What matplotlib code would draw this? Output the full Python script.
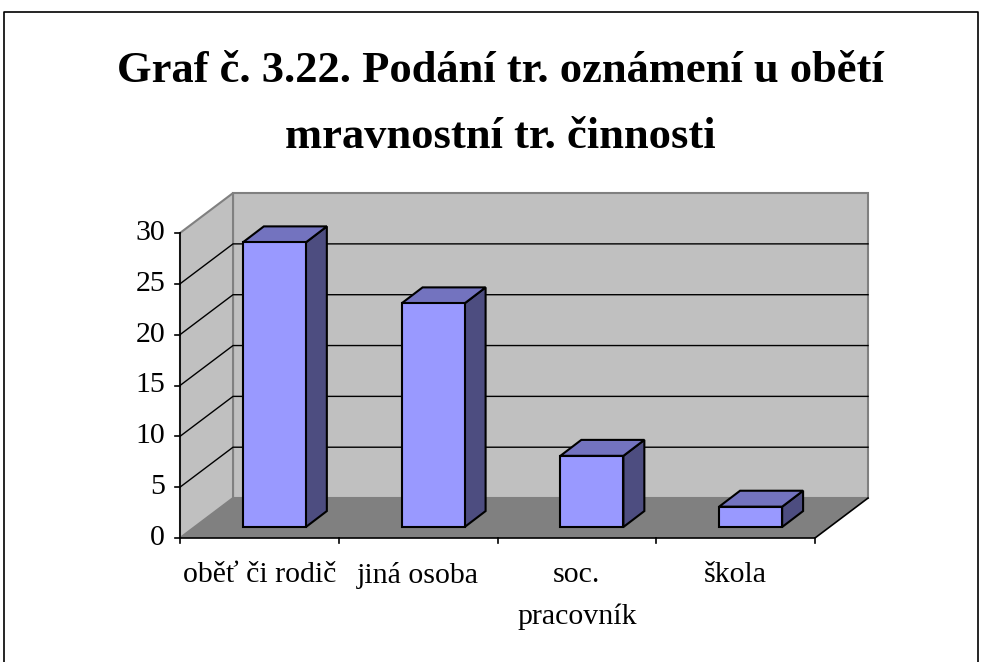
import matplotlib.pyplot as plt
from matplotlib.patches import Polygon

categories = ['oběť či rodič', 'jiná osoba', 'soc.\npracovník', 'škola']
values = [28, 22, 7, 2]
yticks = [0, 5, 10, 15, 20, 25, 30]
title_lines = ['Graf č. 3.22. Podání tr. oznámení u obětí', 'mravnostní tr. činnosti']

plt.rcParams['font.family'] = ['Liberation Serif', 'DejaVu Serif']

fig = plt.figure(figsize=(9.83, 6.62), dpi=100)
ax = fig.add_axes([180 / 983, 124 / 662, 635 / 983, 305 / 662])
ax.set_xlim(0, len(categories))
ax.set_ylim(0, 30)
ax.axis('off')

# depth of the 3d box in data units
dx, dy = 0.334, 3.93
# bar placement inside the depth
fdx, fdy = 0.0945, 1.08
bdx, bdy = 0.132, 1.57
w = 0.397
n = len(categories)
top = yticks[-1]


def poly(pts, fc, ec='none', lw=1.0, z=1):
    ax.add_patch(Polygon(pts, closed=True, facecolor=fc, edgecolor=ec,
                         linewidth=lw, zorder=z, clip_on=False))


# walls and floor
poly([(dx, dy), (n + dx, dy), (n + dx, top + dy), (dx, top + dy)], '#c0c0c0', '#808080', 1.5)
poly([(0, 0), (dx, dy), (dx, top + dy), (0, top)], '#c0c0c0', '#808080', 1.5)
poly([(0, 0), (n, 0), (n + dx, dy), (dx, dy)], '#808080', 'none')

# gridlines
for v in yticks[1:-1]:
    ax.plot([0, dx, n + dx], [v, v + dy, v + dy], color='black', lw=1.0, zorder=2, clip_on=False)

# axes lines
ax.plot([0, 0], [0, top], color='black', lw=1.2, zorder=3, clip_on=False)
ax.plot([0, n, n + dx], [0, 0, dy], color='black', lw=1.2, zorder=3, clip_on=False)
for v in yticks:
    ax.plot([-0.032, 0], [v, v], color='black', lw=1.2, clip_on=False)
    ax.text(-0.094, v, str(v), ha='right', va='center', fontsize=21.5)
for i in range(n + 1):
    ax.plot([i, i], [0, -0.5], color='black', lw=1.2, clip_on=False)

# bars
for i, v in enumerate(values):
    x0 = i + 0.5 - w / 2 + fdx
    x1 = x0 + w
    b, t = fdy, v + fdy
    poly([(x1, b), (x1 + bdx, b + bdy), (x1 + bdx, t + bdy), (x1, t)], '#4d4d80', 'black', 1.5, 5)
    poly([(x0, t), (x1, t), (x1 + bdx, t + bdy), (x0 + bdx, t + bdy)], '#7373bf', 'black', 1.5, 5)
    poly([(x0, b), (x1, b), (x1, t), (x0, t)], '#9999ff', 'black', 1.5, 6)
    ax.text(i + 0.5, -2.4, categories[i], ha='center', va='top', fontsize=21.5,
            linespacing=1.75)

fig.text(0.5087, 1 - 82 / 662, title_lines[0], ha='center', va='baseline', fontsize=32,
         fontweight='bold')
fig.text(0.5087, 1 - 148 / 662, title_lines[1], ha='center', va='baseline', fontsize=32,
         fontweight='bold')

# outer frame
fig.add_artist(plt.Line2D([4 / 983, 4 / 983, 978 / 983, 978 / 983], [0, 650 / 662, 650 / 662, 0],
                          color='black', lw=1.2))

fig.savefig('out.png', dpi=100)
